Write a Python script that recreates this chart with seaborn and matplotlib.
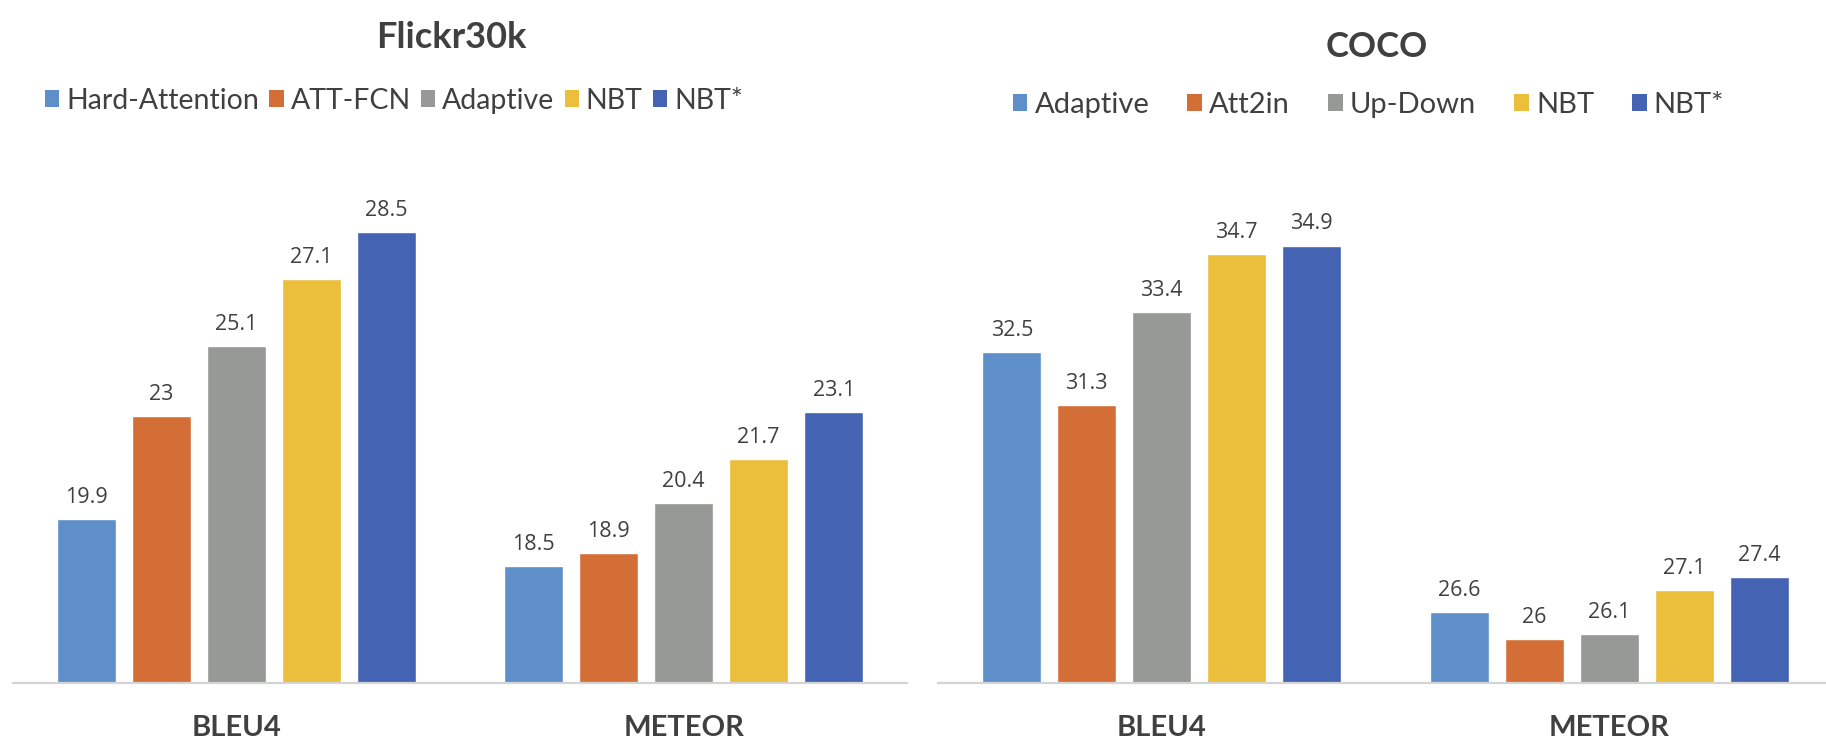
import matplotlib
matplotlib.use("Agg")
import matplotlib.pyplot as plt
from matplotlib.patches import Patch
import seaborn as sns
import pandas as pd

# ---- data ----
metrics = ["BLEU4", "METEOR"]

flickr_models = ["Hard-Attention", "ATT-FCN", "Adaptive", "NBT", "NBT*"]
flickr_bleu4 = [19.9, 23, 25.1, 27.1, 28.5]
flickr_meteor = [18.5, 18.9, 20.4, 21.7, 23.1]

coco_models = ["Adaptive", "Att2in", "Up-Down", "NBT", "NBT*"]
coco_bleu4 = [32.5, 31.3, 33.4, 34.7, 34.9]
coco_meteor = [26.6, 26, 26.1, 27.1, 27.4]

palette = ["#5E8FC8", "#D46E37", "#969996", "#EBBE3C", "#4563B3"]
text_color = "#404040"

sns.set_theme(style="white")
plt.rcParams["font.family"] = ["Lato", "DejaVu Sans"]


def long_table(models, bleu, meteor):
    rows = []
    for m, b, t in zip(models, bleu, meteor):
        rows.append({"metric": metrics[0], "model": m, "value": b})
        rows.append({"metric": metrics[1], "model": m, "value": t})
    return pd.DataFrame(rows)


fig = plt.figure(figsize=(18.26, 7.43), dpi=100)
fig.patch.set_facecolor("white")

ax_l = fig.add_axes([0.00685, 0.08075, 0.4901, 0.6743])
ax_r = fig.add_axes([0.5137, 0.08075, 0.4901, 0.6541])


def draw_panel(ax, models, bleu, meteor, ylim, bracket):
    df = long_table(models, bleu, meteor)
    sns.barplot(data=df, x="metric", y="value", hue="model",
                order=metrics, hue_order=models, palette=palette,
                width=0.838, gap=0.21, saturation=1, legend=False, ax=ax,
                errorbar=None)
    ax.set_ylim(*ylim)
    ax.set_xlim(-0.5, 1.5)
    for cont in ax.containers:
        ax.bar_label(cont, labels=[f"{v:g}" for v in cont.datavalues],
                     padding=8, fontsize=15.5, color=text_color,
                     family=["Open Sans", "DejaVu Sans"])
    ax.set_xlabel("")
    ax.set_ylabel("")
    ax.set_yticks([])
    for s in ("left", "right", "top"):
        ax.spines[s].set_visible(False)
    ax.spines["bottom"].set_color("#D4D4D4")
    ax.spines["bottom"].set_linewidth(1.6)
    ax.set_xticks([0, 1])
    ax.set_xticklabels(metrics, fontsize=21, fontweight="bold",
                       color=text_color)
    ax.tick_params(axis="x", which="major", length=0, pad=23)
    if bracket:
        ax.set_xticks([-0.5, 0.5, 1.5], minor=True)
        ax.tick_params(axis="x", which="minor", length=7, width=1.4,
                       color="#D4D4D4", direction="out")
    ax.set_facecolor("white")


draw_panel(ax_l, flickr_models, flickr_bleu4, flickr_meteor, (15, 30), True)
draw_panel(ax_r, coco_models, coco_bleu4, coco_meteor, (25, 36), False)

fig.text(0.247, 1 - 37 / 743, "Flickr30k", ha="center", va="center",
         fontsize=26, fontweight="bold", color=text_color)
fig.text(0.754, 1 - 47 / 743, "COCO", ha="center", va="center",
         fontsize=25, fontweight="bold", color=text_color)


def add_legend(models, x, y, fontsize, spacing):
    handles = [Patch(facecolor=c, edgecolor="none") for c in palette]
    leg = fig.legend(handles, models, loc="center", bbox_to_anchor=(x, y),
                     ncol=len(models), frameon=False, fontsize=fontsize,
                     handlelength=0.5, handleheight=0.5, handletextpad=0.25,
                     columnspacing=spacing, borderaxespad=0)
    for t in leg.get_texts():
        t.set_color(text_color)


add_legend(flickr_models, 0.2158, 0.8645, 20.5, 0.35)
add_legend(coco_models, 0.7494, 0.8587, 21, 1.3)

fig.savefig("out.png", dpi=100, facecolor="white")
